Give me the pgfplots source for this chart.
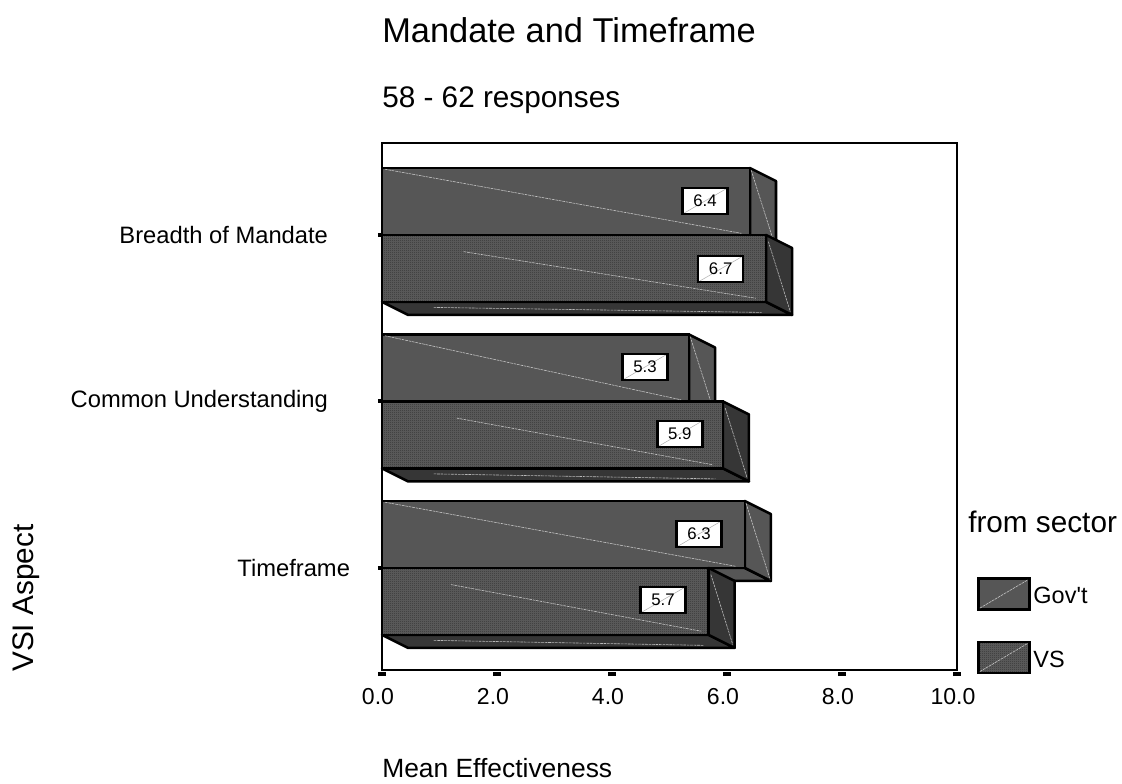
\documentclass[border=0pt]{standalone}
\usepackage{fontspec}
\setmainfont{Liberation Sans}
\newfontfamily\plainfont{Liberation Sans}
\usepackage{pgfplots}
\pgfplotsset{compat=1.18}
\usetikzlibrary{patterns}

\definecolor{govface}{HTML}{565656}
\definecolor{vsface}{HTML}{5E5E5E}
\definecolor{vsdark}{HTML}{363636}

% fine dither of the VS bars
\pgfdeclarepatternformonly{vsdither}{\pgfqpoint{0pt}{0pt}}{\pgfqpoint{1.5pt}{1.5pt}}{\pgfqpoint{1.5pt}{1.5pt}}{
  \pgfpathrectangle{\pgfqpoint{0pt}{0pt}}{\pgfqpoint{.75pt}{.75pt}}
  \pgfpathrectangle{\pgfqpoint{.75pt}{.75pt}}{\pgfqpoint{.75pt}{.75pt}}
  \pgfusepath{fill}
}

\tikzset{
  glint/.style={draw=white, draw opacity=.65, line width=.45pt, dash pattern=on 2pt off .6pt},
}
\pgfplotsset{
  front/.style={xbar, bar width=50.25pt, bar shift=0pt, draw=black, line width=1.9pt},
  gov/.style={front, fill=govface},
  vs/.style={front, fill=vsface, postaction={pattern=vsdither, pattern color=black!80}},
  face/.style={draw=black, line width=1.9pt, line join=round, mark=none},
  spark/.style={glint, mark=none},
}

\begin{document}
\begin{tikzpicture}
\path[use as bounding box] (0,0) rectangle (841.5pt,587.25pt);
\begin{axis}[
  at={(286.5pt,84.75pt)}, anchor=south west,
  scale only axis, width=431.25pt, height=395.25pt,
  clip=false,
  xmin=0, xmax=10, ymin=0.387, ymax=3.5526,
  axis line style={line width=1.8pt},
  xtick={0,2,4,6,8,10},
  ytick={1,2,3},
  yticklabels={Timeframe, Common Understanding\hspace*{16.5pt}, Breadth of Mandate\hspace*{16.5pt}},
  xtick pos=bottom, ytick pos=left,
  tick align=outside,
  major tick length=3pt,
  xtick style={line width=6pt, black, yshift=-1.5pt},
  ytick style={line width=3pt, black, xshift=0pt},
  tick label style={font=\fontsize{17.3}{20}\selectfont},
  yticklabel style={font=\fontsize{17.8}{20}\selectfont, xshift=-17.5pt},
  xticklabel style={xshift=-3pt, yshift=-7pt},
  /pgf/number format/.cd, fixed, fixed zerofill, precision=1, assume math mode=true,
  /pgfplots/.cd,
  title={Mandate and Timeframe},
  title style={font=\fontsize{25.8}{28}\selectfont, inner sep=0pt, at={(axis description cs:0,1)}, anchor=base west, yshift=69pt},
  xlabel={Mean Effectiveness},
  xlabel style={font=\fontsize{19.8}{22}\selectfont, inner sep=0pt, at={(axis description cs:0,0)}, anchor=base west, yshift=-80.25pt},
  ylabel={VSI Aspect},
  ylabel style={font=\fontsize{22.3}{24}\selectfont, inner sep=0pt, at={(axis description cs:0,0)}, anchor=base west, xshift=-1.5pt, yshift=261pt},
  legend style={draw=none, fill=none, inner sep=0pt, at={(axis description cs:1.0348,0.1765)}, anchor=north west,
    font=\fontsize{17.6}{20}\selectfont, row sep=22.5pt, legend cell align=left, nodes={yshift=-2pt}},
  nodes near coords style={anchor=center},
]

% Gov't blocks: side and underside
\addplot[face, fill=govface, forget plot] coordinates {(0,3)(6.4,3)(6.852,2.922)(0.452,2.922)} --cycle;
\addplot[face, fill=govface, forget plot] coordinates {(6.4,3.402)(6.852,3.324)(6.852,2.922)(6.4,3)} --cycle;
\addplot[face, fill=govface, forget plot] coordinates {(0,2)(5.34,2)(5.792,1.922)(0.452,1.922)} --cycle;
\addplot[face, fill=govface, forget plot] coordinates {(5.34,2.402)(5.792,2.324)(5.792,1.922)(5.34,2)} --cycle;
\addplot[face, fill=govface, forget plot] coordinates {(0,1)(6.31,1)(6.762,0.922)(0.452,0.922)} --cycle;
\addplot[face, fill=govface, forget plot] coordinates {(6.31,1.402)(6.762,1.324)(6.762,0.922)(6.31,1)} --cycle;

% Gov't fronts
\addplot[gov, forget plot] coordinates {(6.4,3.201)};
\addplot[gov, forget plot] coordinates {(5.34,2.201)};
\addplot[gov, forget plot] coordinates {(6.31,1.201)};

% faint diagonals on Gov't
\addplot[spark, forget plot] coordinates {(0.05,3.395)(6.25,3.01)};
\addplot[spark, forget plot] coordinates {(6.42,3.39)(6.84,2.93)};
\addplot[spark, forget plot] coordinates {(0.05,2.395)(5.2,2.01)};
\addplot[spark, forget plot] coordinates {(5.36,2.39)(5.78,1.93)};
\addplot[spark, forget plot] coordinates {(0.05,1.395)(6.15,1.01)};
\addplot[spark, forget plot] coordinates {(6.33,1.39)(6.75,0.93)};

% VS blocks: side and underside
\addplot[face, fill=vsdark, forget plot] coordinates {(0,2.598)(6.68,2.598)(7.132,2.520)(0.452,2.520)} --cycle;
\addplot[face, fill=vsdark, forget plot] coordinates {(6.68,3)(7.132,2.922)(7.132,2.520)(6.68,2.598)} --cycle;
\addplot[face, fill=vsdark, forget plot] coordinates {(0,1.598)(5.93,1.598)(6.382,1.520)(0.452,1.520)} --cycle;
\addplot[face, fill=vsdark, forget plot] coordinates {(5.93,2)(6.382,1.922)(6.382,1.520)(5.93,1.598)} --cycle;
\addplot[face, fill=vsdark, forget plot] coordinates {(0,0.598)(5.68,0.598)(6.132,0.520)(0.452,0.520)} --cycle;
\addplot[face, fill=vsdark, forget plot] coordinates {(5.68,1)(6.132,0.922)(6.132,0.520)(5.68,0.598)} --cycle;

% VS fronts
\addplot[vs, forget plot] coordinates {(6.68,2.799)};
\addplot[vs, forget plot] coordinates {(5.93,1.799)};
\addplot[vs, forget plot] coordinates {(5.68,0.799)};

% faint diagonals on VS
\addplot[spark, forget plot] coordinates {(1.42,2.90)(6.50,2.62)};
\addplot[spark, forget plot] coordinates {(6.72,2.96)(7.10,2.54)};
\addplot[spark, forget plot] coordinates {(0.9,2.565)(6.6,2.535)};
\addplot[spark, forget plot] coordinates {(1.3,1.90)(5.75,1.62)};
\addplot[spark, forget plot] coordinates {(5.97,1.96)(6.35,1.54)};
\addplot[spark, forget plot] coordinates {(0.9,1.565)(5.8,1.535)};
\addplot[spark, forget plot] coordinates {(1.2,0.90)(5.55,0.62)};
\addplot[spark, forget plot] coordinates {(5.72,0.96)(6.10,0.54)};
\addplot[spark, forget plot] coordinates {(0.9,0.565)(5.6,0.535)};

% value boxes
\addplot[draw=none, mark=none, forget plot, nodes near coords, point meta=explicit symbolic,
  nodes near coords style={anchor=center, fill=white, draw=black, line width=1.8pt, inner sep=0pt,
    minimum width=33.75pt, minimum height=19.5pt, text=black, font=\fontsize{12.6}{14}\selectfont,
    path picture={\draw[black!30, line width=.4pt] (path picture bounding box.south west) -- (path picture bounding box.north east);}}]
  table[meta=label] {
    x y label
    5.617 3.204 6.4
    5.89 2.796 6.7
    4.574 2.207 5.3
    5.18 1.805 5.9
    5.513 1.204 6.3
    4.887 0.808 5.7
  };

% legend
\addlegendimage{legend image code/.code={
  \draw[fill=govface, line width=1.9pt] (0pt,-11.6pt) rectangle (38.25pt,11.6pt);
  \draw[glint] (1pt,-10.6pt) -- (37pt,10.6pt);}}
\addlegendentry{\plainfont Gov't}
\addlegendimage{legend image code/.code={
  \draw[fill=vsface, line width=1.9pt, postaction={pattern=vsdither, pattern color=black!80}] (0pt,-11.6pt) rectangle (38.25pt,11.6pt);
  \draw[glint] (1pt,-10.6pt) -- (37pt,10.6pt);}}
\addlegendentry{VS}
\end{axis}
\node[anchor=base west, inner sep=0pt, font=\fontsize{22.3}{24}\selectfont] at (286.5pt,506.25pt) {58 - 62 responses};
\node[anchor=base west, inner sep=0pt, font=\fontsize{22.3}{24}\selectfont] at (726pt,188pt) {from sector};
\end{tikzpicture}
\end{document}
